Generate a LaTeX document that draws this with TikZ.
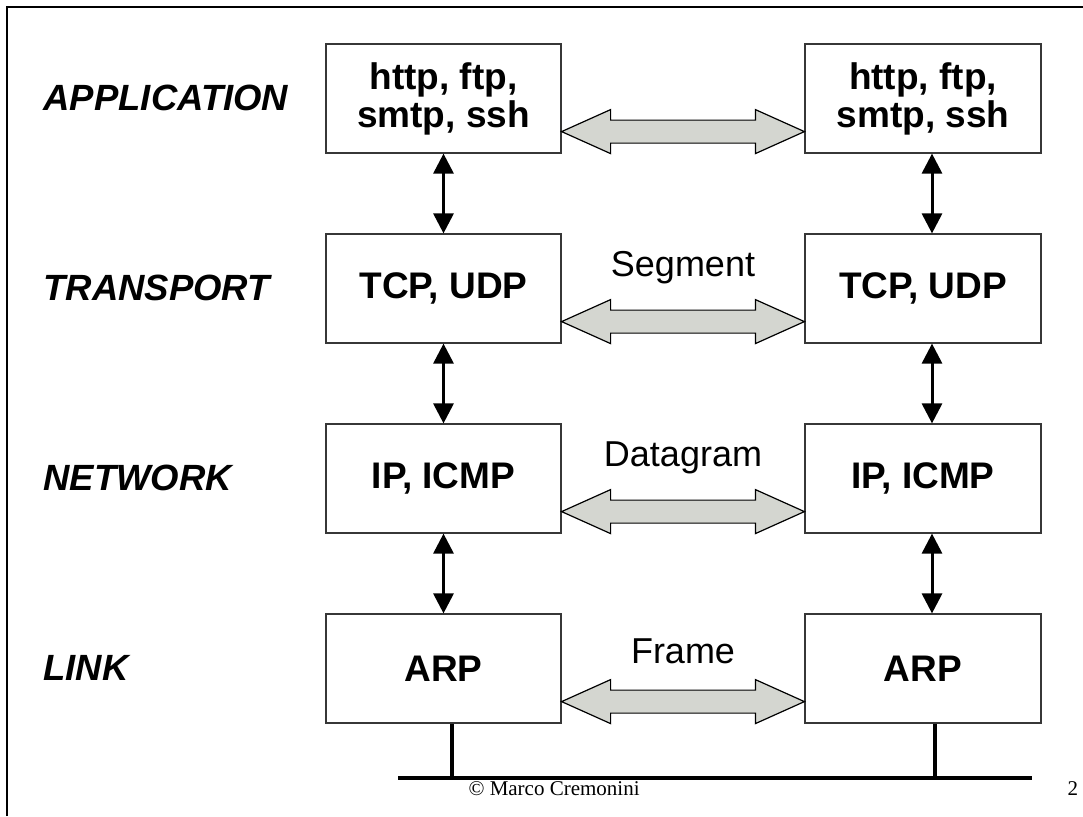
\documentclass[tikz,border=0pt]{standalone}
\usepackage{fontspec}
\setmainfont{Liberation Sans}
\newfontfamily\footfont{Liberation Serif}
\usetikzlibrary{calc,arrows.meta}

\definecolor{pdugrey}{RGB}{212,214,208}
\definecolor{boxline}{RGB}{55,55,55}

% fat grey double arrow between two peer boxes
\newcommand{\pduarrow}[2]{%
  \draw [pdu] ($(#1.south east)+(0,-22)$) -- ++(49,-22) -- ++(0,10.5)
    -- ($(#2.south west)+(-49,-33.5)$) -- ++(0,-10.5) -- ($(#2.south west)+(0,-22)$)
    -- ++(-49,22) -- ++(0,-10.5) -- ($(#1.south east)+(49,-10.5)$) -- ++(0,10.5) -- cycle ;}

\begin{document}
\begin{tikzpicture}[x=1pt, y=-1pt,
    layerbox/.style={draw=boxline, line width=1.2pt, minimum width=235pt, minimum height=109pt,
      inner sep=0pt, align=center, font=\fontsize{37}{38}\selectfont\bfseries},
    layername/.style={anchor=west, font=\fontsize{36.5}{40}\selectfont\bfseries\itshape},
    pdu/.style={draw=black, line width=1.2pt, fill=pdugrey},
    pdulabel/.style={anchor=base, font=\fontsize{36}{40}\selectfont},
    updown/.style={line width=3pt, {Triangle[width=20pt,length=20pt]}-{Triangle[width=20pt,length=20pt]}},
    bus/.style={line width=4.5pt}]
    \useasboundingbox (0,0) rectangle (1083,816) ;
    \draw [line width=1.5pt] (7,816) -- (7,7) -- (1083,7) ;

    % layer names
    \node [layername] (appName) at (40,97.5) {APPLICATION} ;
    \node [layername] (tcpName) at (40,288) {TRANSPORT} ;
    \node [layername] (ipName) at (40,478) {NETWORK} ;
    \node [layername] (arpName) at (40,668) {LINK} ;

    % two stacks
    \node [layerbox] (appL) at (443.5,98.5) {http, ftp,\\smtp, ssh} ;
    \node [layerbox] (tcpL) at (443.5,288.5) {TCP, UDP} ;
    \node [layerbox] (ipL) at (443.5,478.5) {IP, ICMP} ;
    \node [layerbox] (arpL) at (443.5,668.5) {ARP} ;
    \node [layerbox, minimum width=236pt] (appR) at (923,98.5) {http, ftp,\\smtp, ssh} ;
    \node [layerbox, minimum width=236pt] (tcpR) at (923,288.5) {TCP, UDP} ;
    \node [layerbox, minimum width=236pt] (ipR) at (923,478.5) {IP, ICMP} ;
    \node [layerbox, minimum width=236pt] (arpR) at (923,668.5) {ARP} ;

    % inside one host
    \draw [updown] (appL) -- (tcpL) ;
    \draw [updown] (tcpL) -- (ipL) ;
    \draw [updown] (ipL) -- (arpL) ;
    \draw [updown] ([xshift=9pt]appR.south) -- ([xshift=9pt]tcpR.north) ;
    \draw [updown] ([xshift=9pt]tcpR.south) -- ([xshift=9pt]ipR.north) ;
    \draw [updown] ([xshift=9pt]ipR.south) -- ([xshift=9pt]arpR.north) ;

    % peer to peer
    \pduarrow{appL}{appR}
    \pduarrow{tcpL}{tcpR}
    \pduarrow{ipL}{ipR}
    \pduarrow{arpL}{arpR}
    \node [pdulabel] (segLab) at ($(tcpL.south east)!0.5!(tcpR.south west)+(0,-67)$) {Segment} ;
    \node [pdulabel] (dgLab) at ($(ipL.south east)!0.5!(ipR.south west)+(0,-67)$) {Datagram} ;
    \node [pdulabel] (frLab) at ($(arpL.south east)!0.5!(arpR.south west)+(0,-60)$) {Frame} ;

    % the wire
    \coordinate (busW) at (398,778) ;
    \coordinate (busE) at (1032,778) ;
    \coordinate (tapL) at ([xshift=8.5pt]arpL.south) ;
    \coordinate (tapR) at ([xshift=12pt]arpR.south) ;
    \draw [bus] (busW) -- (busE) ;
    \draw [bus, line width=4pt] (tapL) -- (tapL |- busW) ;
    \draw [bus, line width=4pt] (tapR) -- (tapR |- busW) ;

    \node [anchor=base west, font=\footfont\fontsize{21}{24}\selectfont] (credit) at (465,795) {© Marco Cremonini} ;
    \node [anchor=base west, font=\footfont\fontsize{21}{24}\selectfont] (pageNo) at (1064,795) {2} ;
\end{tikzpicture}
\end{document}
